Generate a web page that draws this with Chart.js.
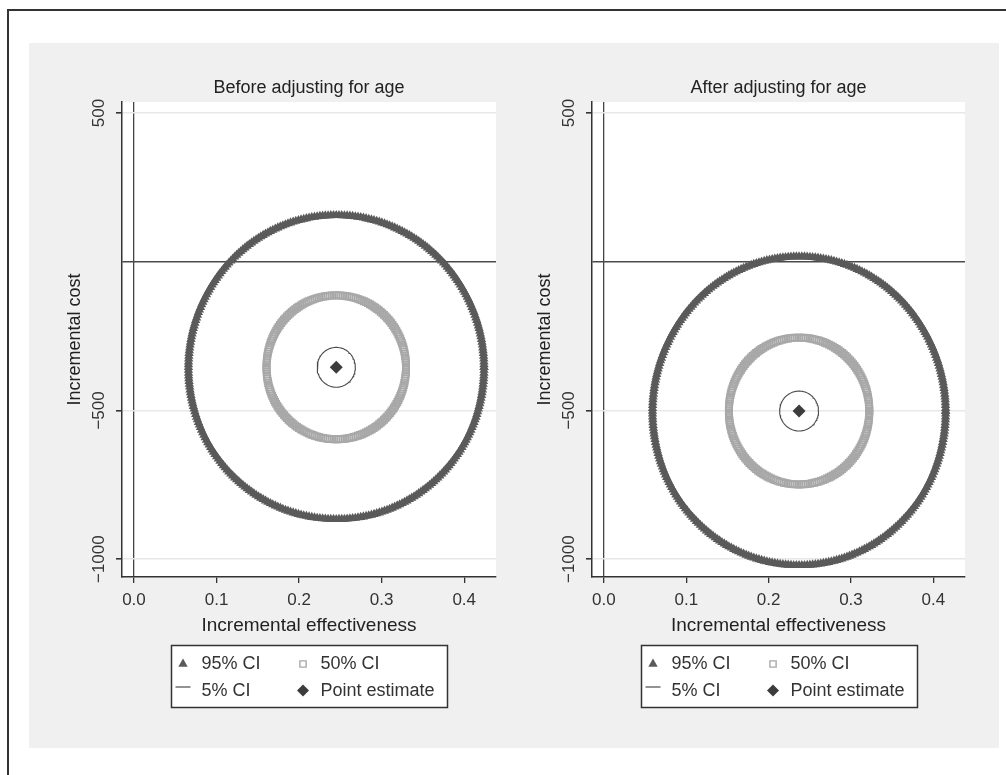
<!DOCTYPE html>
<html>
<head>
<meta charset="utf-8">
<script src="https://cdn.jsdelivr.net/npm/chart.js@4/dist/chart.umd.min.js"></script>
<style>
  html, body { margin: 0; padding: 0; background: #ffffff; width: 1006px; height: 775px; overflow: hidden; }
  #frame { position: absolute; left: 7px; top: 9px; width: 1100px; height: 900px; border-left: 2px solid #333; border-top: 2px solid #333; }
  #bg { position: absolute; left: 29px; top: 43px; width: 970px; height: 705px; background: #f0f0f0; }
  canvas { position: absolute; }
</style>
</head>
<body>
<div id="frame"></div>
<div id="bg"></div>
<canvas id="c1" width="485" height="705" style="left:29px;top:43px"></canvas>
<canvas id="c2" width="500" height="705" style="left:499px;top:43px"></canvas>
<script>
// ---------------- data ----------------
const panelTitles = ['Before adjusting for age', 'After adjusting for age'];
const seriesLabels = ['95% CI', '50% CI', '5% CI', 'Point estimate'];
const xTickValues = [0, 0.1, 0.2, 0.3, 0.4];
const yTickValues = [500, 0, -500, -1000];
const yTickLabels = ['500', '', '\u2212500', '\u22121000'];
const xAxisTitle = 'Incremental effectiveness';
const yAxisTitle = 'Incremental cost';
// point estimates per panel [before, after]
const pointEffect = [0.245, 0.237];
const pointCost = [-355, -502];
// confidence-ellipse half widths (effectiveness units) for [95%, 50%, 5%]
const halfWidthBefore = [0.179, 0.0845, 0.0231];
const halfWidthAfter = [0.178, 0.0853, 0.0236];
// confidence-ellipse half heights (cost units) for [95%, 50%, 5%]
const halfHeightBefore = [511, 242, 67];
const halfHeightAfter = [519, 247, 67];

// ---------------- rendering ----------------
const FONT = '"Liberation Sans", Arial, sans-serif';

function ellipse(cx, cy, rx, ry, n) {
  const pts = [];
  for (let k = 0; k <= n; k++) {
    const t = 2 * Math.PI * k / n;
    pts.push({ x: cx + rx * Math.cos(t), y: cy + ry * Math.sin(t) });
  }
  return pts;
}

function drawMarker(ctx, style, x, y, r, fill, stroke, lw) {
  ctx.save();
  ctx.beginPath();
  if (style === 'triangle') {
    for (let i = 0; i < 3; i++) {
      const a = i * 2 * Math.PI / 3;
      const px = x + Math.sin(a) * r, py = y - Math.cos(a) * r;
      if (i === 0) ctx.moveTo(px, py); else ctx.lineTo(px, py);
    }
    ctx.closePath();
    ctx.fillStyle = fill; ctx.fill();
  } else if (style === 'rect') {
    const s = r * Math.SQRT1_2;
    ctx.rect(x - s, y - s, 2 * s, 2 * s);
    ctx.strokeStyle = stroke; ctx.lineWidth = lw; ctx.stroke();
  } else if (style === 'rectRot') {
    ctx.moveTo(x, y - r); ctx.lineTo(x + r, y); ctx.lineTo(x, y + r); ctx.lineTo(x - r, y);
    ctx.closePath();
    ctx.fillStyle = fill; ctx.fill();
  } else if (style === 'line') {
    ctx.moveTo(x - 7.5, y); ctx.lineTo(x + 7.5, y);
    ctx.strokeStyle = stroke; ctx.lineWidth = lw; ctx.stroke();
  }
  ctx.restore();
}

const panelPlugin = {
  id: 'panelDeco',
  beforeDraw(chart) {
    const { ctx, chartArea: a } = chart;
    ctx.save();
    ctx.fillStyle = '#ffffff';
    ctx.fillRect(a.left, a.top, a.right - a.left, a.bottom - a.top);
    ctx.restore();
  },
  afterDraw(chart) {
    const { ctx, chartArea: a } = chart;
    const ys = chart.scales.y;
    // rotated y tick labels (Stata style)
    ctx.save();
    ctx.font = '17px ' + FONT;
    ctx.fillStyle = '#333';
    ctx.textAlign = 'center';
    ctx.textBaseline = 'middle';
    yTickValues.forEach((v, i) => {
      const lbl = yTickLabels[i];
      if (!lbl) return;
      const py = ys.getPixelForValue(v);
      ctx.save();
      ctx.translate(a.left - 22.5, py);
      ctx.rotate(-Math.PI / 2);
      ctx.fillText(lbl, 0, 0);
      ctx.restore();
    });
    ctx.restore();

    // legend box (2 x 2)
    const ds = chart.data.datasets;
    const bw = 276, bh = 62;
    const lx = Math.round((a.left + a.right) / 2 - bw / 2) + 0.5;
    const ly = Math.round(a.bottom + 68) + 0.5;
    ctx.save();
    ctx.fillStyle = '#ffffff';
    ctx.fillRect(lx, ly, bw, bh);
    ctx.strokeStyle = '#333';
    ctx.lineWidth = 1.5;
    ctx.strokeRect(lx, ly, bw, bh);
    const cells = [
      { i: 0, col: 0, row: 0, style: 'triangle', r: 5.4 },
      { i: 1, col: 1, row: 0, style: 'rect', r: 4.4 },
      { i: 2, col: 0, row: 1, style: 'line', r: 0 },
      { i: 3, col: 1, row: 1, style: 'rectRot', r: 6 }
    ];
    ctx.font = '18px ' + FONT;
    ctx.textBaseline = 'middle';
    ctx.textAlign = 'left';
    cells.forEach(c => {
      const d = ds[c.i];
      const mx = lx + (c.col === 0 ? 11.5 : 131.5);
      const tx = lx + (c.col === 0 ? 30 : 149);
      const cy = ly + (c.row === 0 ? 19 : 45.5);
      const my = c.style === 'line' ? cy - 4 : cy - 0.5;
      drawMarker(ctx, c.style, mx, my, c.r, d.backgroundColor, d.borderColor, c.style === 'line' ? 1.2 : 1.4);
      ctx.fillStyle = '#333';
      ctx.fillText(d.label, tx, cy);
    });
    ctx.restore();
  }
};

function makePanel(canvasId, idx, halfW, halfH, padRight) {
  const cx = pointEffect[idx], cy = pointCost[idx];
  const datasets = [
    { label: seriesLabels[0], data: ellipse(cx, cy, halfW[0], halfH[0], 340),
      pointStyle: 'triangle', pointRadius: 5.4, backgroundColor: '#5a5a5a', borderColor: '#5a5a5a', borderWidth: 0, showLine: false },
    { label: seriesLabels[1], data: ellipse(cx, cy, halfW[1], halfH[1], 200),
      pointStyle: 'rect', pointRadius: 4.4, backgroundColor: 'rgba(0,0,0,0)', borderColor: '#a8a8a8', borderWidth: 1.6, showLine: false },
    { label: seriesLabels[2], data: ellipse(cx, cy, halfW[2], halfH[2], 90),
      showLine: true, pointRadius: 0, borderColor: '#4a4a4a', backgroundColor: '#4a4a4a', borderWidth: 1.1, fill: false, tension: 0 },
    { label: seriesLabels[3], data: [{ x: cx, y: cy }],
      pointStyle: 'rectRot', pointRadius: 6.5, backgroundColor: '#3c3c3c', borderColor: '#3c3c3c', borderWidth: 0 }
  ];
  return new Chart(document.getElementById(canvasId), {
    type: 'scatter',
    data: { datasets },
    options: {
      responsive: false,
      animation: false,
      events: [],
      devicePixelRatio: 1,
      layout: { padding: { left: 0, right: padRight, top: 0, bottom: 101 } },
      plugins: {
        legend: { display: false },
        tooltip: { enabled: false },
        title: {
          display: true, text: panelTitles[idx], fullSize: false, color: '#222',
          font: { family: FONT, size: 18, weight: 'normal' },
          padding: { top: 34, bottom: 3.4 }
        }
      },
      scales: {
        x: {
          type: 'linear', position: 'bottom', min: -0.0145, max: 0.4385,
          afterBuildTicks: s => { s.ticks = xTickValues.map(v => ({ value: v })); },
          afterFit: s => { s.height = 70; },
          ticks: { color: '#333', font: { family: FONT, size: 17 }, padding: 7, maxRotation: 0, autoSkip: false,
                   callback: v => Number(v).toFixed(1) },
          grid: {
            color: c => (c.tick && c.tick.value === 0) ? '#444' : 'rgba(0,0,0,0)',
            lineWidth: 1.3, tickColor: '#333', tickLength: 6, drawTicks: true
          },
          border: { display: true, color: '#333', width: 1.5 },
          title: { display: true, text: xAxisTitle, color: '#222', font: { family: FONT, size: 19 },
                   padding: { top: 0, bottom: 10.3 } }
        },
        y: {
          type: 'linear', position: 'left', min: -1060, max: 537,
          afterBuildTicks: s => { s.ticks = yTickValues.map(v => ({ value: v })); },
          afterFit: s => { s.width = 93; },
          ticks: { display: false },
          grid: {
            color: c => (c.tick && c.tick.value === 0) ? '#4a4a4a' : '#e8e8e8',
            lineWidth: c => (c.tick && c.tick.value === 0) ? 1.4 : 1.6,
            tickColor: c => (c.tick && c.tick.value === 0) ? 'rgba(0,0,0,0)' : '#333',
            tickLength: 6, drawTicks: true
          },
          border: { display: true, color: '#333', width: 1.5 },
          title: { display: true, text: yAxisTitle, color: '#222', font: { family: FONT, size: 18 },
                   padding: { top: 35.7, bottom: 0 } }
        }
      }
    },
    plugins: [panelPlugin]
  });
}

makePanel('c1', 0, halfWidthBefore, halfHeightBefore, 18);
makePanel('c2', 1, halfWidthAfter, halfHeightAfter, 34);
</script>
</body>
</html>
